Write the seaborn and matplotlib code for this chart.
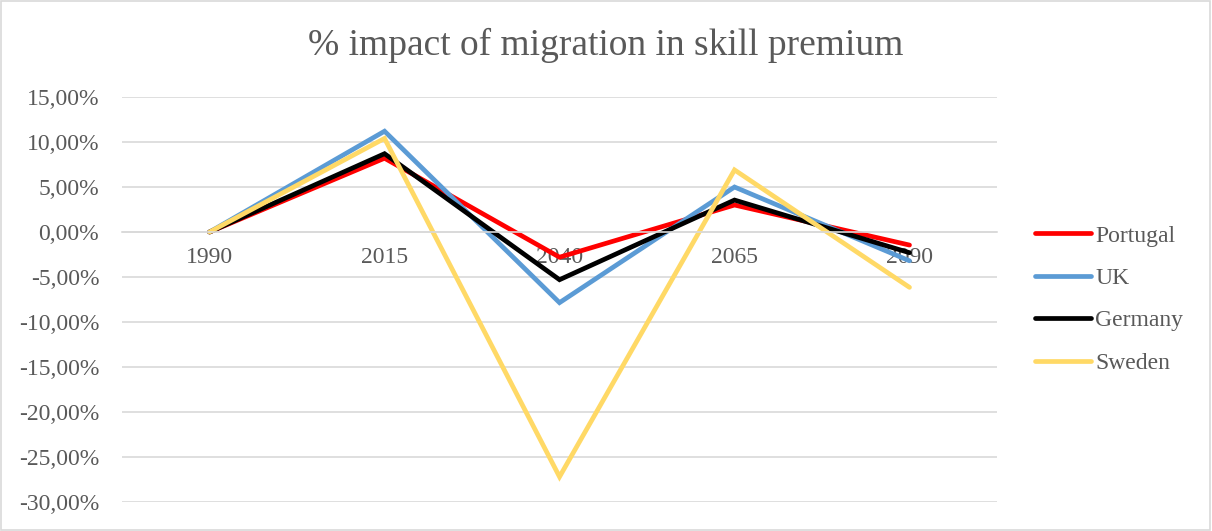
import pandas as pd
import numpy as np
import matplotlib.pyplot as plt
import seaborn as sns
from matplotlib.ticker import FuncFormatter

# values (in %)
years = ['1990', '2015', '2040', '2065', '2090']
portugal = [0.0, 8.2, -2.8, 3.0, -1.45]
uk = [0.0, 11.2, -7.85, 5.0, -3.2]
germany = [0.0, 8.7, -5.3, 3.55, -2.3]
sweden = [0.0, 10.4, -27.2, 6.9, -6.15]

countries = ['Portugal', 'UK', 'Germany', 'Sweden']
colors = ['#FF0000', '#5B9BD5', '#000000', '#FFD966']

df = pd.DataFrame({'year': years * 4,
                   'pos': list(range(len(years))) * 4,
                   'value': portugal + uk + germany + sweden,
                   'country': np.repeat(countries, len(years))})

sns.set_style('white')
plt.rcParams['font.family'] = ['Liberation Serif', 'DejaVu Serif']
grey = '#595959'

fig = plt.figure(figsize=(12.12, 5.31), dpi=100)
ax = fig.add_axes([0.1007, 0.0546, 0.7219, 0.7627])
sns.lineplot(data=df, x='pos', y='value', hue='country', palette=colors,
             linewidth=3.4, ax=ax, sort=False, legend=False,
             solid_capstyle='round', solid_joinstyle='miter')

ax.set_xlim(-0.5, len(years) - 0.5)
ax.set_ylim(-30, 15)
ax.set_yticks(np.arange(-30, 16, 5))
ax.yaxis.set_major_formatter(FuncFormatter(lambda v, p: f'{v:.2f}%'.replace('.', ',')))
ax.set_xticks(range(len(years)))
ax.set_xticklabels(years)
ax.grid(axis='y', color='#D9D9D9', linewidth=1.2)
ax.grid(axis='x', visible=False)
for s in ['top', 'right', 'left']:
    ax.spines[s].set_visible(False)
ax.spines['bottom'].set_position(('data', 0))
ax.spines['bottom'].set_color('#D9D9D9')
ax.spines['bottom'].set_linewidth(1.2)
ax.tick_params(axis='both', length=0, labelsize=17, colors=grey)
ax.tick_params(axis='x', pad=11)
ax.tick_params(axis='y', pad=16.5)
ax.set_xlabel('')
ax.set_ylabel('')
ax.set_axisbelow(True)

fig.text(0.5, 0.915, '% impact of migration in skill premium', ha='center',
         va='center', fontsize=27, color=grey)

handles = [plt.Line2D([], [], color=c, linewidth=3.4, solid_capstyle='round') for c in colors]
fig.legend(handles, countries, loc='center left', bbox_to_anchor=(0.854, 0.436),
           frameon=False, fontsize=17, labelcolor=grey, handlelength=2.35,
           handletextpad=0.2, labelspacing=0.885, borderpad=0, borderaxespad=0)

fig.patches.append(plt.Rectangle((0.001, 0.002), 0.997, 0.996, transform=fig.transFigure,
                                 fill=False, edgecolor='#D9D9D9', linewidth=1.2))

plt.savefig('out.png', dpi=100)
